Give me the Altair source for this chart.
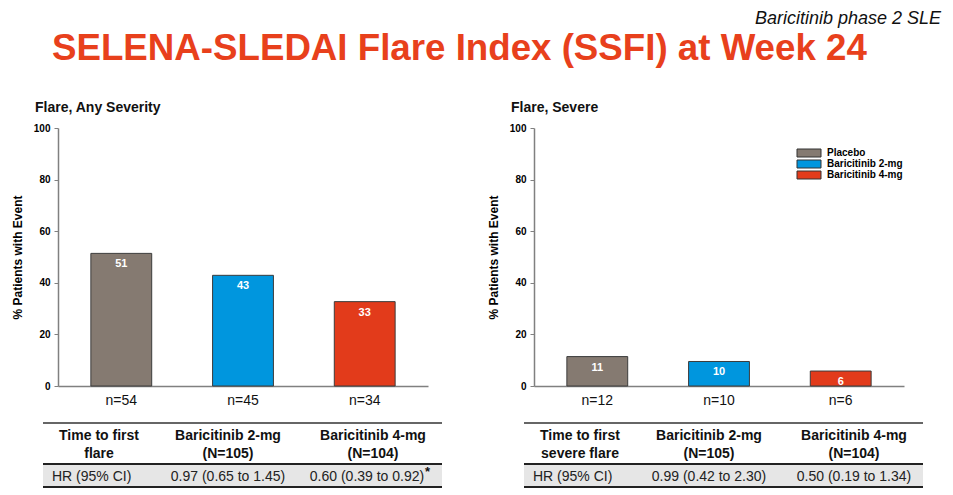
import altair as alt
import pandas as pd

# ---------------- data ----------------
groups = ["Placebo", "Baricitinib 2-mg", "Baricitinib 4-mg"]
colors = ["#857A71", "#0096DE", "#E23B1B"]

any_values = [51.4, 42.9, 32.7]
any_labels = ["51", "43", "33"]
any_n = ["n=54", "n=45", "n=34"]

sev_values = [11.4, 9.5, 5.8]
sev_labels = ["11", "10", "6"]
sev_n = ["n=12", "n=10", "n=6"]

y_ticks = [0, 20, 40, 60, 80, 100]

any_head = ["Time to first\nflare", "Baricitinib 2-mg\n(N=105)", "Baricitinib 4-mg\n(N=104)"]
any_row = ["HR (95% CI)", "0.97 (0.65 to 1.45)", "0.60 (0.39 to 0.92)"]
any_note = "*"
sev_head = ["Time to first\nsevere flare", "Baricitinib 2-mg\n(N=105)", "Baricitinib 4-mg\n(N=104)"]
sev_row = ["HR (95% CI)", "0.99 (0.42 to 2.30)", "0.50 (0.19 to 1.34)"]
sev_note = ""

main_title = "SELENA-SLEDAI Flare Index (SSFI) at Week 24"
corner_note = "Baricitinib phase 2 SLE"
panel_titles = ["Flare, Any Severity", "Flare, Severe"]
y_title = "% Patients with Event"

# ---------------- style ----------------
FONT = "Liberation Sans"
W, H = 370, 258
RED = "#E8401C"


def one(text):
    return alt.Chart(pd.DataFrame({"t": [text]}))


def panel(title, values, labels, ns, head, row, note, legend, tx):
    df = pd.DataFrame({"group": groups, "value": values, "label": labels, "n": ns})
    base = alt.Chart(df)
    xenc = alt.X(
        "group:N",
        sort=groups,
        scale=alt.Scale(domain=groups, paddingInner=0.5, paddingOuter=0.27),
        axis=alt.Axis(title=None, labels=False, ticks=False, domainColor="#808080", domainWidth=1.5),
    )
    yenc = alt.Y(
        "value:Q",
        scale=alt.Scale(domain=[0, 100]),
        axis=alt.Axis(
            values=y_ticks, grid=False, title=y_title, titleFont=FONT, titleFontSize=12,
            titleFontWeight="bold", titleColor="black", titlePadding=9,
            labelFont=FONT, labelFontSize=10, labelFontWeight="bold", labelColor="black",
            labelPadding=4, tickSize=4, tickColor="#808080", domainColor="#808080",
            domainWidth=1.5,
        ),
    )
    if legend:
        leg = alt.Legend(
            title=None, orient="none", legendX=270, legendY=20,
            symbolType="M-3,-1H3V1H-3Z", symbolSize=64, symbolStrokeColor="#333333",
            symbolStrokeWidth=1, symbolOpacity=1, labelFont=FONT, labelFontSize=10,
            labelFontWeight="bold", labelColor="black", labelOffset=13, rowPadding=-1,
        )
    else:
        leg = None
    cenc = alt.Color("group:N", scale=alt.Scale(domain=groups, range=colors), legend=leg)
    bars = base.mark_bar(stroke="#3c3c3c", strokeWidth=1).encode(x=xenc, y=yenc, color=cenc)
    vals = base.mark_text(color="white", font=FONT, fontWeight="bold", fontSize=11, dy=11).encode(
        x=alt.X("group:N", sort=groups), y="value:Q", text="label:N"
    )
    nlab = base.mark_text(font=FONT, fontSize=14, color="#111111").encode(
        x=alt.X("group:N", sort=groups), y=alt.value(H + 15), text="n:N"
    )

    # table
    left, right = tx, tx + 399
    colx = [tx + 56, tx + 185, tx + 330]
    shade = one("").mark_rect(color="#E6E6E6").encode(
        x=alt.value(left), x2=alt.value(right), y=alt.value(336), y2=alt.value(359)
    )
    r1 = one("").mark_rule(color="#333333", strokeWidth=1.5).encode(
        x=alt.value(left), x2=alt.value(right), y=alt.value(295)
    )
    r2 = one("").mark_rule(color="#222222", strokeWidth=2).encode(
        x=alt.value(left), x2=alt.value(right), y=alt.value(336)
    )
    r3 = one("").mark_rule(color="#222222", strokeWidth=2).encode(
        x=alt.value(left), x2=alt.value(right), y=alt.value(359)
    )
    layers = [bars, vals, nlab, shade, r1, r2, r3]
    for i, txt in enumerate(head):
        layers.append(
            one(txt).mark_text(font=FONT, fontSize=14, fontWeight="bold", lineBreak="\n",
                               lineHeight=18, color="#111111").encode(
                x=alt.value(colx[i]), y=alt.value(308), text="t:N")
        )
    layers.append(
        one(row[0]).mark_text(font=FONT, fontSize=14, align="left", color="#222222").encode(
            x=alt.value(tx + 9), y=alt.value(349), text="t:N")
    )
    shift = -6 if note else 0
    for i in (1, 2):
        layers.append(
            one(row[i]).mark_text(font=FONT, fontSize=14, color="#222222",
                                  dx=shift if i == 2 else 0).encode(
                x=alt.value(colx[i]), y=alt.value(349), text="t:N")
        )
    if note:
        layers.append(
            one(note).mark_text(font=FONT, fontSize=13, fontWeight="bold", align="left",
                                dx=52, dy=-5, color="#111111").encode(
                x=alt.value(colx[2]), y=alt.value(349), text="t:N")
        )
    return alt.layer(*layers).properties(
        width=W, height=H,
        title=alt.TitleParams(title, anchor="start", frame="group", font=FONT, fontSize=14,
                              fontWeight="bold", color="#111111", dx=-23, offset=8),
    )


left_panel = panel(panel_titles[0], any_values, any_labels, any_n, any_head, any_row, any_note, False, -15)
right_panel = panel(panel_titles[1], sev_values, sev_labels, sev_n, sev_head, sev_row, sev_note, True, -10)

body = alt.hconcat(left_panel, right_panel, spacing=44).resolve_scale(color="independent")

header = alt.layer(
    one(main_title).mark_text(font=FONT, fontSize=36.7, fontWeight="bold", color=RED, align="left",
                              baseline="alphabetic").encode(x=alt.value(-6), y=alt.value(49), text="t:N"),
    one(corner_note).mark_text(font=FONT, fontSize=18, fontStyle="italic", color="#111111",
                               align="right", baseline="alphabetic").encode(
        x=alt.value(883), y=alt.value(13), text="t:N"),
).properties(width=370, height=90)

chart = alt.vconcat(header, body, spacing=0).configure(
    padding={"left": 3, "top": 2, "right": 4, "bottom": 0}
).configure_view(stroke=None)

chart.save("out.html", embed_options={"renderer": "svg", "actions": False})
